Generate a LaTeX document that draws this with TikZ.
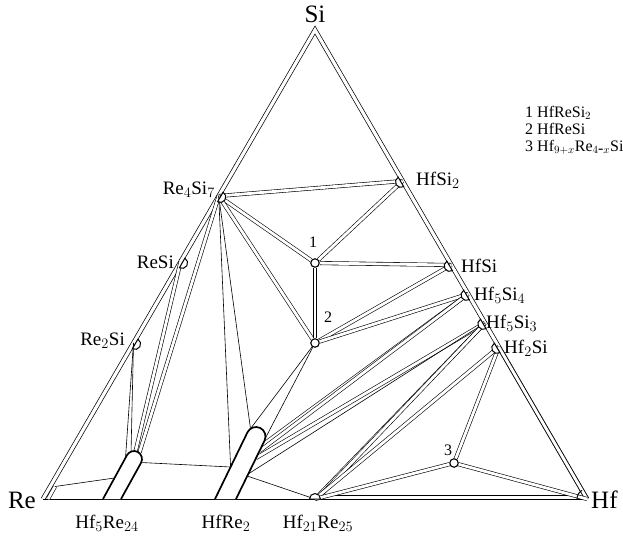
\documentclass[tikz,border=0pt]{standalone}
\usepackage{fontspec}
\setmainfont{Liberation Serif}
\usetikzlibrary{calc}
\begin{document}
\begin{tikzpicture}[x=1pt,y=-1pt,
  tie/.style={line width=0.6pt},
  strip/.style={line width=0.6pt,double=white,double distance=2.8pt},
  edgeline/.style={line width=0.7pt,double=white,double distance=3.2pt,line join=miter},
  band/.style={line width=1.7pt,fill=white},
  semi/.style={line width=1pt,fill=white},
  tern/.style={circle,draw,line width=1.1pt,fill=white,inner sep=0pt,minimum size=8.5pt},
  lab/.style={font=\fontsize{19}{22}\selectfont,inner sep=0pt},
  big/.style={font=\fontsize{25}{28}\selectfont,inner sep=0pt},
  num/.style={font=\fontsize{16}{18}\selectfont,inner sep=0pt},
  leg/.style={font=\fontsize{16}{18}\selectfont,inner sep=0pt,anchor=base west}]
\useasboundingbox (0,0) rectangle (623,535);
% vertices and phases
\coordinate (Si) at (315,30);
\coordinate (Re) at (43,499);
\coordinate (Hf) at (587,499);
\coordinate (R47) at (218.7,196);
\coordinate (RS) at (180.5,262);
\coordinate (R2S) at (133.5,343);
\coordinate (HS2) at (402.6,181);
\coordinate (HS) at (451.3,265);
\coordinate (H54) at (468.1,294);
\coordinate (H53) at (484.9,323);
\coordinate (H2S) at (498.8,347);
\coordinate (H21) at (315,499);
% band anchors
\coordinate (Ac) at (134,459);
\coordinate (Bc) at (256,436.5);
\coordinate (Acap1) at (131,453.5);
\coordinate (Acap2) at (135.5,451.5);
\coordinate (Acap3) at (139.5,452.5);
\coordinate (Al1) at (125.5,458);
\coordinate (Al2) at (114.5,478);
\coordinate (Ar) at (141,462.5);
\coordinate (Btop) at (250.5,428.7);
\coordinate (Btr) at (265.4,438.1);
\coordinate (Bl) at (230.6,467);
\coordinate (Br1) at (262.4,445);
\coordinate (Br2) at (259.5,451);
\coordinate (Br3) at (256.0,458);
\coordinate (Br4) at (248.2,474);
\coordinate (Br5) at (247.2,476);
\coordinate (Rc1) at (48,499);
\coordinate (Rc2) at (55,486.5);
\coordinate (H21b) at (318,498);
% ternary points
\node[tern] (T1) at (315,263) {};
\node[tern] (T2) at (315,343) {};
\node[tern] (T3) at (454,463) {};
% triangle
\draw[edgeline] (Re) -- (Si) -- (Hf);
\draw[line width=1pt] (Re) -- (Hf);
\draw[tie] ($(H21)+(4,-3.5)$) -- ($(Hf)+(-8,-3.5)$);
% two-phase strips
\draw[strip] (R47) -- (HS2);
\draw[strip] (R47) -- (T1);
\draw[strip] (R47) -- (T2);
\draw[strip] (T1) -- (HS2);
\draw[strip] (T1) -- (HS);
\draw[strip] (T1) -- (T2);
\draw[strip] (T2) -- (HS);
\draw[strip] (T2) -- (H54);
\draw[strip] (H54) -- (Br1);
\draw[strip] (H54) -- (Br2);
\draw[strip] (H53) -- (Br3);
\draw[strip] (H53) -- (H21);
\draw[strip] (H53) -- (H21b);
\draw[strip] (H2S) -- (H21);
\draw[strip] (H2S) -- (T3);
\draw[strip] (H2S) -- (Hf);
\draw[strip] (T3) -- (H21);
\draw[strip] (T3) -- (Hf);
\draw[strip] (R47) -- (Acap3);
\draw[strip] (RS) -- (Acap2);
\draw[strip] (Rc1) -- (Rc2);
% single tie lines
\draw[tie] (R47) -- (Btop);
\draw[tie] (R47) -- (Bl);
\draw[tie] (T2) -- (Btop);
\draw[tie] (T2) -- (Btr);
\draw[tie] (H53) -- (Br4);
\draw[tie] (Br5) -- (H21);
\draw[tie] (Ar) -- (Bl);
\draw[tie] (R2S) -- (Al1);
\draw[tie] (R2S) -- (Acap1);
\draw[tie] (Rc2) -- (Al2);
% bands
\draw[band] (103,499) -- ($(Ac)+(-151.2:8)$) arc[start angle=-151.2,end angle=28.8,radius=8] -- (121,499);
\draw[band] (215,499) -- ($(Bc)+(-154.2:9.5)$) arc[start angle=-154.2,end angle=25.8,radius=9.5] -- (236,499);
% phase marks
\foreach \p in {HS2,HS,H54,H53,H2S}
  \draw[semi] ($(\p)+(149.9:1.9)+(59.9:5.5)$) arc[start angle=59.9,end angle=239.9,radius=5.5] -- cycle;
\foreach \p in {R47,RS,R2S}
  \draw[semi] ($(\p)+(30.1:1.9)+(-59.9:5.5)$) arc[start angle=-59.9,end angle=120.1,radius=5.5] -- cycle;
\draw[semi] ($(H21)+(5.5,0)$) arc[start angle=0,end angle=-180,radius=5.5] -- cycle;
\draw[line width=1pt] ($(Hf)+(180:10)$) arc[start angle=180,end angle=239.9,radius=10];
% labels
\node[big] (lSi) at (315,14) {Si};
\node[big,anchor=east] (lRe) at (36,500) {Re};
\node[big,anchor=west] (lHf) at (591,500) {Hf};
\node[lab,anchor=east] (lR47) at (215,190) {Re$_4$Si$_7$};
\node[lab,anchor=east] (lRS) at (174,262) {ReSi};
\node[lab,anchor=east] (lR2S) at (125,341) {Re$_2$Si};
\node[lab,anchor=west] (lHS2) at (416,180) {HfSi$_2$};
\node[lab,anchor=west] (lHS) at (461,266) {HfSi};
\node[lab,anchor=west] (lH54) at (474,295) {Hf$_5$Si$_4$};
\node[lab,anchor=west] (lH53) at (486,323) {Hf$_5$Si$_3$};
\node[lab,anchor=west] (lH2S) at (504,348) {Hf$_2$Si};
\node[lab] (lA) at (107,523) {Hf$_5$Re$_{24}$};
\node[lab] (lB) at (226,523) {HfRe$_2$};
\node[lab] (lH21) at (318,523) {Hf$_{21}$Re$_{25}$};
\node[num] (n1) at (313,242) {1};
\node[num] (n2) at (328,317) {2};
\node[num] (n3) at (448,450) {3};
\node[leg] (g1) at (525,117) {1 HfReSi$_2$};
\node[leg] (g2) at (525,134) {2 HfReSi};
\node[leg] (g3) at (525,151) {3 Hf$_{9+x}$Re$_{4\mbox{-}x}$Si};
\end{tikzpicture}
\end{document}
